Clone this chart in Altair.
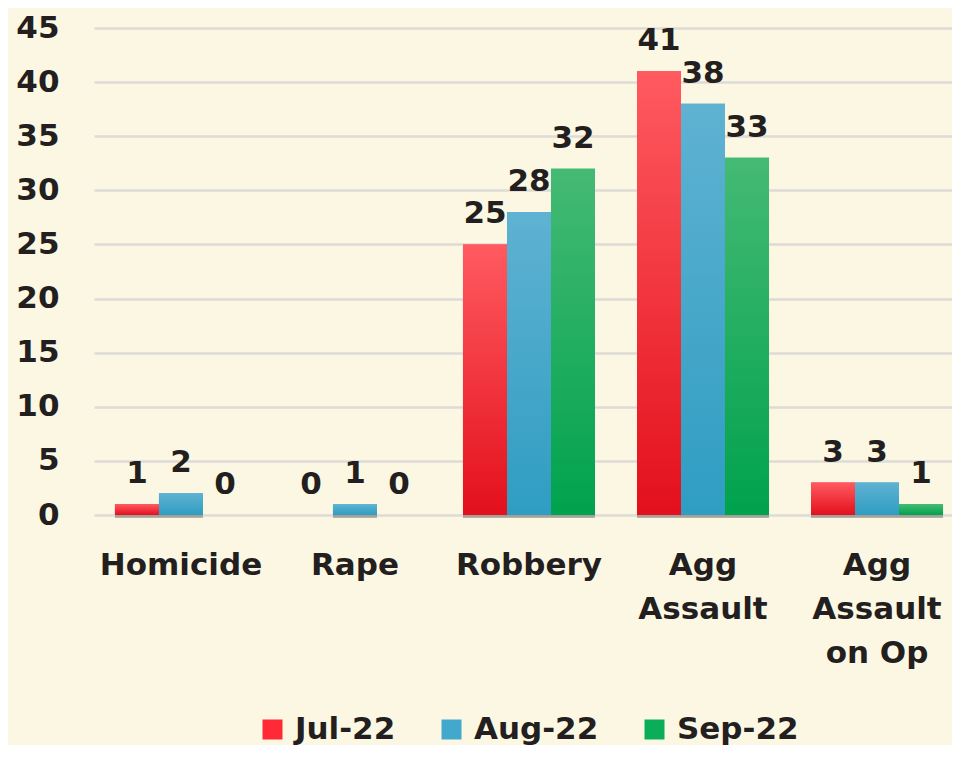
import altair as alt
import pandas as pd

categories = ["Homicide", "Rape", "Robbery", "Agg\nAssault", "Agg\nAssault\non Op"]
series = ["Jul-22", "Aug-22", "Sep-22"]
jul = [1, 0, 25, 41, 3]
aug = [2, 1, 28, 38, 3]
sep = [0, 0, 32, 33, 1]

solid = ["#FF2A35", "#42A9CC", "#0BAE58"]
grads = [
    ("#FF5A60", "#E3101C"),
    ("#5FB2D2", "#2F9DC2"),
    ("#45BA74", "#00A24E"),
]

rows = []
for s, vals in zip(series, [jul, aug, sep]):
    for c, v in zip(categories, vals):
        rows.append({"cat": c, "series": s, "value": v})
df = pd.DataFrame(rows)

FONT = "DejaVu Sans"
TXT = "#231F20"

x_enc = alt.X(
    "cat:N",
    sort=categories,
    scale=alt.Scale(paddingInner=0.2414, paddingOuter=0.086, align=0.70),
    axis=alt.Axis(
        title=None,
        labelAngle=0,
        labelExpr="split(datum.value, '\\n')",
        labelFont=FONT,
        labelFontSize=31,
        labelFontWeight="bold",
        labelColor=TXT,
        labelLineHeight=44,
        labelPadding=35,
        ticks=False,
        domain=False,
        grid=False,
        labelBaseline="top",
    ),
)
xo_enc = alt.XOffset(
    "series:N",
    sort=series,
    scale=alt.Scale(domain=series, paddingInner=0, paddingOuter=0),
)
y_enc = alt.Y(
    "value:Q",
    scale=alt.Scale(domain=[0, 45], nice=False),
    axis=alt.Axis(
        title=None,
        values=list(range(0, 46, 5)),
        labelFont=FONT,
        labelFontSize=31,
        labelFontWeight="bold",
        labelColor=TXT,
        labelPadding=35,
        ticks=False,
        domain=False,
        grid=True,
        gridColor="#DEDBD6",
        gridWidth=2.5,
    ),
)

base = alt.Chart(df)

shadow = base.mark_bar(color="#000000", opacity=0.28, xOffset=4, yOffset=3).encode(
    x=x_enc, xOffset=xo_enc, y=y_enc
)

bars = base.mark_bar().encode(
    x=x_enc,
    xOffset=xo_enc,
    y=y_enc,
    color=alt.Color(
        "series:N",
        sort=series,
        scale=alt.Scale(domain=series, range=solid),
        legend=alt.Legend(
            title=None,
            orient="none",
            direction="horizontal",
            columns=3,
            gridAlign="none",
            legendX=163,
            legendY=686,
            symbolType="square",
            symbolSize=400,
            symbolStrokeWidth=0,
            labelFont=FONT,
            labelFontSize=31,
            labelFontWeight="bold",
            labelColor=TXT,
            labelOffset=7,
            columnPadding=40,
        ),
    ),
)

overlays = []
for s, (top, bot) in zip(series, grads):
    overlays.append(
        base.transform_filter(alt.datum.series == s)
        .mark_bar(
            color=alt.Gradient(
                gradient="linear",
                stops=[
                    alt.GradientStop(color=top, offset=0),
                    alt.GradientStop(color=bot, offset=1),
                ],
                x1=0, x2=0, y1=0, y2=1,
            )
        )
        .encode(x=x_enc, xOffset=xo_enc, y=y_enc)
    )

labels = base.mark_text(
    font=FONT, fontSize=31, fontWeight="bold", color=TXT,
    baseline="alphabetic", dy=-21,
).encode(x=x_enc, xOffset=xo_enc, y=y_enc, text="value:Q")

chart = (
    alt.layer(shadow, bars, *overlays, labels)
    .properties(
        width=858,
        height=487,
        background="#FCF7E2",
        padding={"left": 86, "top": 20, "right": 0, "bottom": 230},
        autosize=alt.AutoSizeParams(type="none"),
    )
    .configure_view(stroke=None)
)

chart.save("out.html", embed_options={"renderer": "svg", "actions": False})
